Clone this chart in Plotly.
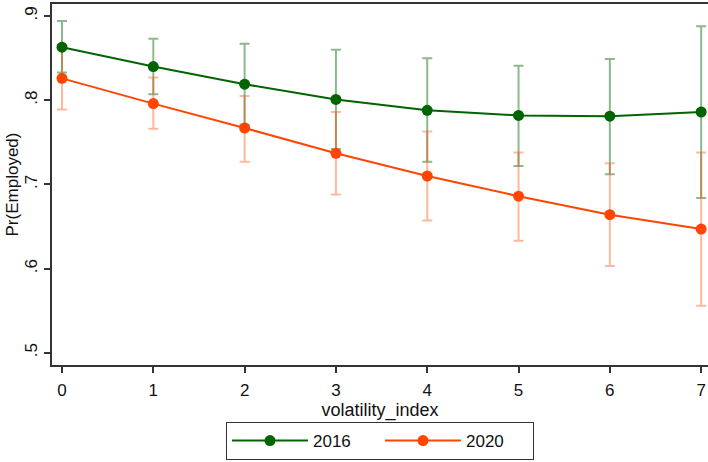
import plotly.graph_objects as go

x_vals = [0, 1, 2, 3, 4, 5, 6, 7]
p2016 = [0.863, 0.840, 0.819, 0.801, 0.788, 0.782, 0.781, 0.786]
hi2016 = [0.894, 0.873, 0.867, 0.860, 0.850, 0.841, 0.849, 0.888]
lo2016 = [0.833, 0.807, 0.771, 0.742, 0.727, 0.722, 0.712, 0.684]
p2020 = [0.826, 0.796, 0.767, 0.737, 0.710, 0.686, 0.664, 0.647]
hi2020 = [0.863, 0.827, 0.805, 0.786, 0.763, 0.738, 0.725, 0.738]
lo2020 = [0.789, 0.766, 0.727, 0.688, 0.657, 0.633, 0.603, 0.556]
y_tickvals = [0.5, 0.6, 0.7, 0.8, 0.9]
y_ticktext = [".5", ".6", ".7", ".8", ".9"]

GREEN = "#006400"
ORANGE = "#FF4500"
FONT = "Liberation Sans, Arial, sans-serif"
AX = "#333333"

fig = go.Figure()

def err_trace(y, hi, lo, color):
    return go.Scatter(
        x=x_vals, y=y, mode="markers",
        marker=dict(size=1, opacity=0),
        error_y=dict(type="data", symmetric=False,
                     array=[h - v for h, v in zip(hi, y)],
                     arrayminus=[v - l for v, l in zip(y, lo)],
                     color=color, thickness=2, width=5),
        showlegend=False, hoverinfo="skip")

fig.add_trace(err_trace(p2016, hi2016, lo2016, "rgba(0,100,0,0.45)"))
fig.add_trace(err_trace(p2020, hi2020, lo2020, "rgba(255,69,0,0.38)"))

fig.add_trace(go.Scatter(x=x_vals, y=p2016, mode="lines+markers", name="2016",
                         line=dict(color=GREEN, width=2),
                         marker=dict(color=GREEN, size=11)))
fig.add_trace(go.Scatter(x=x_vals, y=p2020, mode="lines+markers", name="2020",
                         line=dict(color=ORANGE, width=2),
                         marker=dict(color=ORANGE, size=11)))

fig.update_layout(
    width=708, height=462,
    margin=dict(l=52, r=0, t=4, b=97, autoexpand=False),
    paper_bgcolor="white", plot_bgcolor="white",
    font=dict(family=FONT, size=17, color="#111111"),
    xaxis=dict(range=[-0.1095, 7.075], tickvals=x_vals, automargin=False,
               showgrid=False, zeroline=False,
               showline=True, linecolor=AX, linewidth=2, mirror=True,
               ticks="outside", ticklen=6, tickwidth=1.5, tickcolor=AX,
               tickfont=dict(size=17), ticklabelstandoff=3,
               title=dict(text="volatility_index", font=dict(size=18), standoff=0)),
    yaxis=dict(range=[0.4855, 0.9143], tickvals=y_tickvals, ticktext=y_ticktext,
               automargin=False,
               showgrid=False, zeroline=False,
               showline=True, linecolor=AX, linewidth=2, mirror=True,
               ticks="outside", ticklen=6, tickwidth=1.5, tickcolor=AX,
               tickangle=-90, tickfont=dict(size=17)),
    legend=dict(orientation="h", x=0.5, xanchor="center", y=-0.158, yanchor="top",
                bordercolor=AX, borderwidth=1, font=dict(size=17),
                itemwidth=76, entrywidth=62),
    annotations=[dict(text="Pr(Employed)", xref="paper", yref="paper",
                      x=-0.0595, y=0.5, xanchor="center", yanchor="middle",
                      textangle=-90, showarrow=False, font=dict(size=17))],
)

fig.write_html("out.html", config={"displayModeBar": False},
               post_script="document.body.style.margin='0';document.body.style.overflow='hidden';")
